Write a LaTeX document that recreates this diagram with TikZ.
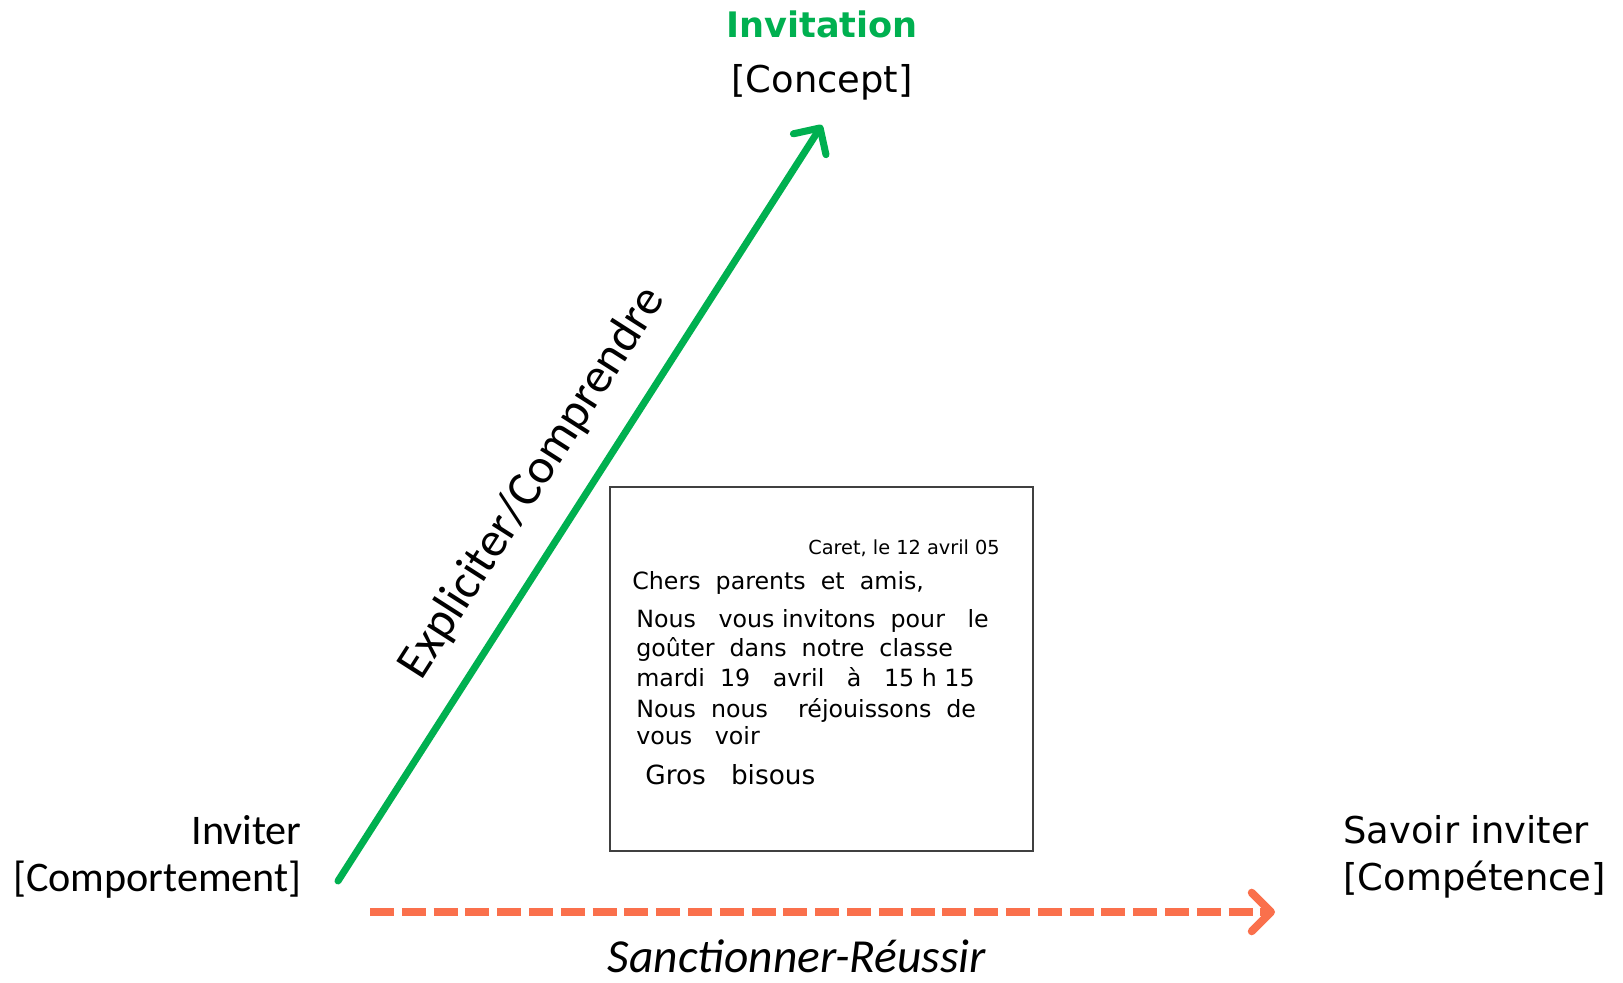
\documentclass[tikz,border=0pt]{standalone}
\usepackage{fontspec}
\setmainfont{DejaVu Sans}
\newfontfamily\calib{Carlito}
\usetikzlibrary{arrows.meta, positioning}
\definecolor{invgreen}{RGB}{0,176,80}
\definecolor{sancorange}{RGB}{250,112,76}
\definecolor{framegray}{RGB}{64,64,64}

\begin{document}
\begin{tikzpicture}[
    x=0.02cm, y=0.02cm,
    every node/.style={inner sep=0pt},
    tahoma/.style={font=\fontsize{21}{26.6}\selectfont},
    calibri/.style={font=\calib\fontsize{24}{26.6}\selectfont},
    hand/.style={anchor=base west, font=\fontsize{13.5}{16}\selectfont},
    arrow/.style={-{Straight Barb[length=11pt, width=22pt, round]}, line width=4pt, line cap=round}
  ]
    \useasboundingbox (0,0) rectangle (1623,983);

    % the three poles
    \node[tahoma, align=center, anchor=north] (concept) at (822,973)
      {\textcolor{invgreen}{\fontsize{20}{29}\selectfont\bfseries Invitation}\\[5pt][Concept]};
    \node[calibri, align=right, anchor=north east] (behaviour) at (302,168) {Inviter\\{}[Comportement]};
    \node[tahoma, align=left, anchor=north west] (skill) at (1343,168) {Savoir inviter\\{}[Compétence]};

    % the children's letter
    \node[draw=framegray, line width=1.2pt, minimum width=8.46cm, minimum height=7.28cm] (letter) at (821.5,314) {};
    \node[hand, font=\fontsize{11}{13}\selectfont] (l1) at (808,428) {Caret, le 12 avril 05};
    \node[hand] (l2) at (632,393) {Chers \ parents \ et \ amis,};
    \node[hand] (l3) at (636,355) {Nous \ \ vous invitons \ pour \ \ le};
    \node[hand] (l4) at (636,326) {goûter \ dans \ notre \ classe};
    \node[hand] (l5) at (636,296) {mardi \ 19 \ \ avril \ \ à \ \ 15 h 15};
    \node[hand] (l6) at (636,265) {Nous \ nous \ \ \ réjouissons \ de};
    \node[hand] (l7) at (636,238) {vous \ \ voir};
    \node[hand, font=\fontsize{15}{18}\selectfont] (l8) at (645,198) {Gros \ \ bisous};

    % arrows
    \coordinate (from) at (338,102);
    \coordinate (to) at (822,858);
    \draw[arrow, invgreen] (from) -- (to)
      node[pos=0.49, sloped, above=15pt, font=\calib\fontsize{28}{30}\selectfont, text=black] (explain) {Expliciter/Comprendre};

    \coordinate (left) at (370,71);
    \coordinate (right) at (1275,71);
    \draw[arrow, sancorange, line width=4.5pt, line cap=butt, dash pattern=on 13.6pt off 4.5pt] (left) -- (right);
    \node[anchor=base, font=\calib\itshape\fontsize{27}{30}\selectfont] (sanction) at (797,10) {Sanctionner-Réussir};
  \end{tikzpicture}
\end{document}
